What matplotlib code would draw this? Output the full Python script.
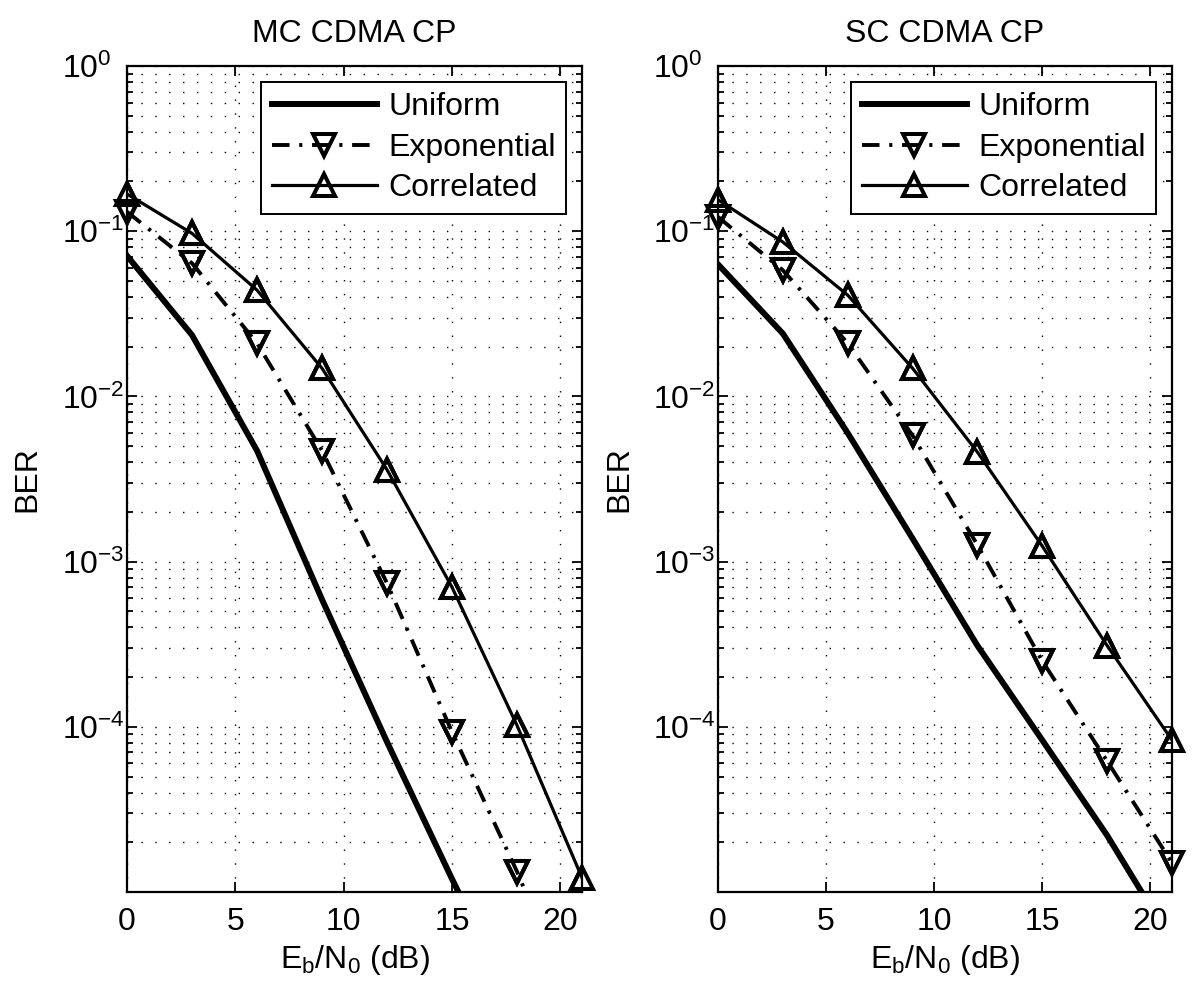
import matplotlib
matplotlib.use('Agg')
import matplotlib.pyplot as plt
import matplotlib.ticker as ticker

plt.rcParams['font.family'] = ['Liberation Sans', 'DejaVu Sans']
plt.rcParams['mathtext.fontset'] = 'custom'
plt.rcParams['mathtext.rm'] = 'Liberation Sans'
plt.rcParams['mathtext.it'] = 'Liberation Sans'
plt.rcParams['mathtext.bf'] = 'Liberation Sans'

# Eb/N0 points (dB)
snr = [0, 3, 6, 9, 12, 15, 18, 21]

# MC CDMA CP
mc_uniform = [0.071, 0.0235, 0.0047, 5.9e-4, 8.1e-5, 1.2e-5, 1.9e-6, 3e-7]
mc_exponential = [0.131, 0.064, 0.021, 0.0047, 7.4e-4, 9.3e-5, 1.33e-5, 1.5e-6]
mc_correlated = [0.168, 0.097, 0.044, 0.0148, 0.0036, 7.0e-4, 1.02e-4, 1.22e-5]

# SC CDMA CP
sc_uniform = [0.063, 0.024, 0.006, 1.38e-3, 3.1e-4, 8.3e-5, 2.2e-5, 5e-6]
sc_exponential = [0.122, 0.058, 0.021, 0.0058, 1.26e-3, 2.5e-4, 6.2e-5, 1.5e-5]
sc_correlated = [0.155, 0.086, 0.041, 0.0148, 0.0046, 1.24e-3, 3.1e-4, 8.3e-5]

titles = ['MC CDMA CP', 'SC CDMA CP']
labels = ['Uniform', 'Exponential', 'Correlated']
yticks = [1e-4, 1e-3, 1e-2, 1e-1, 1]
ytick_labels = [r'$\mathregular{10^{-4}}$', r'$\mathregular{10^{-3}}$',
                r'$\mathregular{10^{-2}}$', r'$\mathregular{10^{-1}}$',
                r'$\mathregular{10^{0}}$']
panels = [(mc_uniform, mc_exponential, mc_correlated),
          (sc_uniform, sc_exponential, sc_correlated)]

ymin = 1e-5

fig = plt.figure(figsize=(12, 9.96), dpi=100)
ax1 = fig.add_axes([127/1200, 104/996, 455/1200, 826/996])
ax2 = fig.add_axes([718/1200, 104/996, 454/1200, 826/996])

fs = 23
dot = (0, (1, 9))
mk = dict(markersize=16.5, mew=2.9, mfc='none', mec='k')

for ax, title, (uni, expo, corr) in zip([ax1, ax2], titles, panels):
    ax.semilogy(snr, uni, color='k', lw=4.3, label=labels[0])
    ax.semilogy(snr, expo, color='k', lw=2.8, linestyle=(0, (4.5, 2.5, 0.8, 2.5)),
                marker='v', label=labels[1], **mk)
    ax.semilogy(snr, corr, color='k', lw=2.3, marker='^', label=labels[2], **mk)

    # markers are not clipped at the axes edge (like MATLAB)
    for vals, m in [(expo, 'v'), (corr, '^')]:
        xs = [x for x, v in zip(snr, vals) if v >= ymin]
        ys = [v for v in vals if v >= ymin]
        ax.plot(xs, ys, linestyle='none', marker=m, clip_on=False, zorder=3, **mk)

    ax.set_xlim(0, 21)
    ax.set_ylim(ymin, 1)
    ax.xaxis.set_major_locator(ticker.MultipleLocator(5))
    ax.set_yticks(yticks)
    ax.set_yticklabels(ytick_labels, ha='left')
    ax.yaxis.set_minor_locator(ticker.LogLocator(base=10, subs=range(2, 10), numticks=20))
    ax.yaxis.set_minor_formatter(ticker.NullFormatter())

    ax.grid(True, which='major', axis='both', color='k', lw=1.0, linestyle=dot)
    ax.grid(True, which='minor', axis='y', color='k', lw=1.0, linestyle=dot)

    ax.tick_params(which='both', direction='in', top=True, right=True,
                   labelsize=fs, width=1.3)
    ax.tick_params(axis='x', pad=11)
    ax.tick_params(axis='y', pad=47)
    ax.tick_params(which='major', length=7)
    ax.tick_params(which='minor', length=4)
    for s in ax.spines.values():
        s.set_linewidth(1.6)

    ax.set_title(title, fontsize=fs, pad=17)
    ax.set_ylabel('BER', fontsize=fs)
    ax.yaxis.set_label_coords(-0.185, 0.5)
    ax.set_xlabel(r'E$_{\mathrm{b}}$/N$_{\mathrm{0}}$ (dB)', fontsize=fs)
    ax.xaxis.set_label_coords(0.5, -0.062)

    leg = ax.legend(loc='upper right', fontsize=fs, handlelength=3.3,
                    handletextpad=0.35, labelspacing=0.33, borderpad=0.32,
                    borderaxespad=0.5, fancybox=False, framealpha=1,
                    edgecolor='k')
    leg.get_frame().set_linewidth(1.4)
    leg.set_zorder(5)

fig.savefig('out.png', dpi=100)
